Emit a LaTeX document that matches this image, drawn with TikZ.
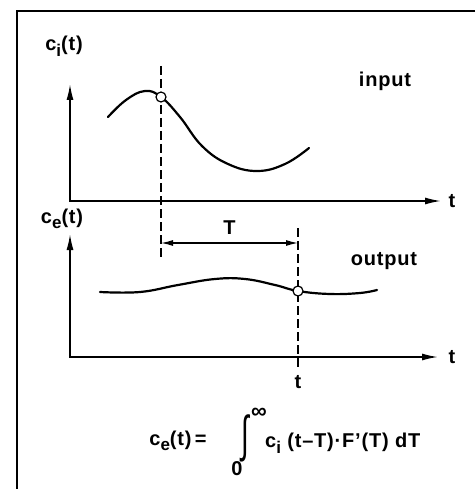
\documentclass[tikz,border=0pt]{standalone}
\usepackage{fontspec}
\setmainfont[LetterSpace=4]{Liberation Sans}
\usetikzlibrary{arrows.meta}

\newcommand{\lowr}[1]{\raisebox{-0.28em}{\fontsize{17}{19}\selectfont #1}}

\begin{document}
\begin{tikzpicture}[x=1pt, y=-1pt,
    every node/.style={font=\fontsize{20}{23}\selectfont\bfseries, inner sep=0pt},
    axis/.style={line width=1.6pt, {Latex[length=16pt, width=7pt]}-{Latex[length=16pt, width=7pt]}},
    curve/.style={line width=2.2pt, line cap=round},
    guide/.style={line width=1.3pt, dash pattern=on 9pt off 4pt},
    dimline/.style={line width=1.3pt, {Latex[length=12pt, width=6pt]}-{Latex[length=12pt, width=6pt]}},
    probe/.style={circle, draw, fill=white, line width=1.2pt, minimum size=10pt, inner sep=0pt},
]
\useasboundingbox (0,0) rectangle (475,489);

% ===== FRAME =====
\coordinate (fr-tr) at (475,11);
\coordinate (fr-tl) at (17,11);
\coordinate (fr-bl) at (17,489);
\draw[line width=1.2pt] (fr-tr) -- (fr-tl) -- (fr-bl);

% ===== INPUT (top graph) =====
\coordinate (in-o) at (70,201);
\coordinate (in-ytip) at (70,84);
\coordinate (in-xtip) at (441,201);
\draw[axis] (in-ytip) -- (in-o) -- (in-xtip);

\node (in-ylab) at (64,46) {c\lowr{i}(t)};
\node (in-tlab) at (452,201) {t};
\node (in-lab) at (385,81) {input};

% input signal
\draw[curve] plot[smooth, tension=0.7] coordinates {
    (108,117) (126,100) (145,91) (161,97) (180,117) (202,146)
    (228,164) (257,171) (285,164) (309,148)};

% dashed guide at t - T
\coordinate (d1-top) at (161,66);
\coordinate (d1-bot) at (161,257);
\draw[guide] (d1-top) -- (d1-bot);
\node[probe] (in-pt) at (161,97) {};

% ===== DELAY T =====
\coordinate (T-l) at (161,243);
\coordinate (T-r) at (298,243);
\draw[dimline] (T-l) -- node[above=8pt] (T-lab) {T} (T-r);

% ===== OUTPUT (bottom graph) =====
\coordinate (out-o) at (70,357);
\coordinate (out-ytip) at (70,234);
\coordinate (out-xtip) at (438,357);
\draw[axis] (out-ytip) -- (out-o) -- (out-xtip);

\node (out-ylab) at (62,219) {c\lowr{e}(t)};
\node (out-tlab) at (452,357) {t};
\node (out-lab) at (384,261) {output};

% output signal
\draw[curve] plot[smooth, tension=0.7] coordinates {
    (100,292) (140,292) (178,285) (215,279) (245,279) (275,285)
    (298,291) (330,294) (360,293) (377,290)};

% dashed guide at t
\coordinate (d2-top) at (298,228);
\coordinate (d2-bot) at (298,368);
\draw[guide] (d2-top) -- (d2-bot);
\node[probe] (out-pt) at (298,291) {};
\node (t-mark) at (298,382) {t};

% ===== CONVOLUTION =====
\node (eq-lhs) at (178,441) {c\lowr{e}(t)\,=};
\node (eq-int) at (245,438) {\fontsize{40}{40}\selectfont\mdseries\scalebox{0.7}[1.25]{∫}};
\node (eq-hi) at (259,413) {\fontsize{22}{22}\selectfont ∞};
\node (eq-lo) at (237,469) {0};
\node[anchor=west] (eq-rhs) at (265,443) {c\lowr{i} (t–T)·F'(T) dT};
\end{tikzpicture}
\end{document}
